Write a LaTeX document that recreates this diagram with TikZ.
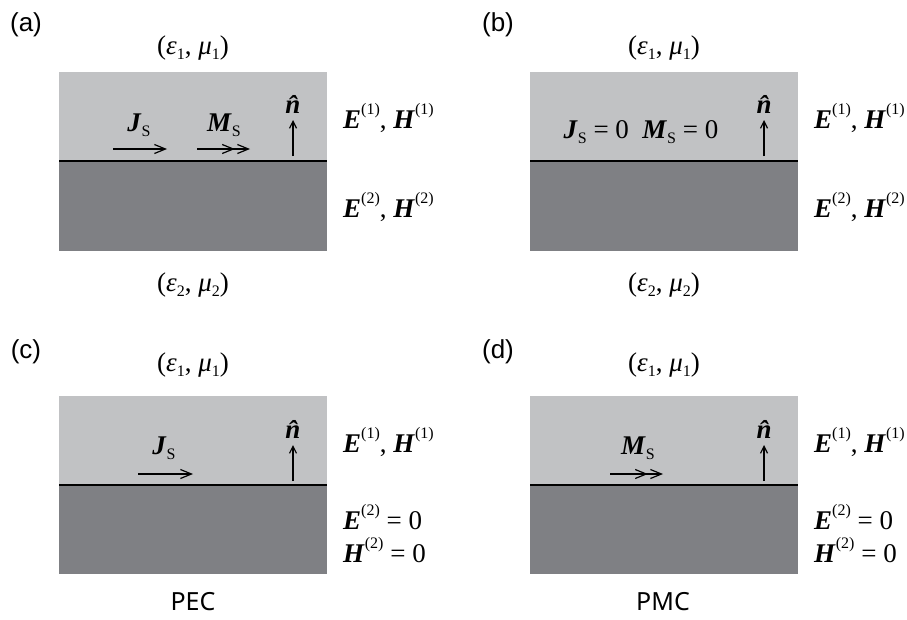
\documentclass[tikz,border=0pt]{standalone}
\usepackage{fontspec}
\setmainfont{Liberation Serif}
\newfontfamily\tagfont{Liberation Sans}
\newfontfamily\wallfont{Noto Sans}
\usetikzlibrary{arrows.meta,positioning}
\definecolor{upgray}{RGB}{193,194,196}
\definecolor{lowgray}{RGB}{127,128,132}
\newcommand{\vE}{\textbf{\textit{E}}}
\newcommand{\vH}{\textbf{\textit{H}}}
\newcommand{\vJ}{\textbf{\textit{J}}}
\newcommand{\vM}{\textbf{\textit{M}}}
\newcommand{\lowtxt}[1]{\raisebox{-0.2em}{\fontsize{16}{16}\selectfont #1}}
\newcommand{\hightxt}[1]{\raisebox{0.5em}{\fontsize{16}{16}\selectfont #1}}
\newcommand{\nhat}{{\bfseries\itshape\^{n}}}
\newcommand{\medium}[1]{(\textit{ε}\lowtxt{#1}, \textit{μ}\lowtxt{#1})}

\begin{document}
\begin{tikzpicture}[x=1pt, y=-1pt,
  every node/.style={font=\fontsize{27}{31}\selectfont, inner sep=0pt},
  tag/.style={font=\tagfont\fontsize{26}{30}\selectfont},
  wall/.style={font=\wallfont\fontsize{25}{29}\selectfont},
  upper/.style={fill=upgray},
  lower/.style={fill=lowgray},
  iface/.style={line width=1.6pt},
  cur/.style={-{Straight Barb[length=11pt,width=9pt]}, line width=1.2pt},
  mcur/.style={-{Straight Barb[length=11pt,width=9pt,sep=2pt] Straight Barb[length=11pt,width=9pt]}, line width=1.2pt},
  nrm/.style={-{Straight Barb[length=7pt,width=7pt]}, line width=1.2pt}]
\useasboundingbox (0,0) rectangle (907,619);

\begin{scope}[shift={(59,72)}]
\fill[upper] (0,0) rectangle (268,89);
\fill[lower] (0,89) rectangle (268,179);
\draw[iface] (0,89) -- (268,89);
\node[tag] (a-tag) at (-33,-47) {(a)};
\node (a-m1) at (134,-24) {\medium{1}};
\node (a-m2) at (134,213) {\medium{2}};
\node[anchor=west] (a-f1) at (284,46) {\vE\hightxt{(1)}, \vH\hightxt{(1)}};
\node[anchor=west] (a-f2) at (284,135) {\vE\hightxt{(2)}, \vH\hightxt{(2)}};
\coordinate (a-j0) at (54,77);
\coordinate (a-j1) at (108,77);
\draw[cur] (a-j0) -- (a-j1);
\node (a-j) at (80,53) {\vJ\lowtxt{S}};
\coordinate (a-k0) at (138,77);
\coordinate (a-k1) at (191,77);
\draw[mcur] (a-k0) -- (a-k1);
\node (a-k) at (165,53) {\vM\lowtxt{S}};
\coordinate (a-n0) at (234,84);
\coordinate (a-n1) at (234,48);
\draw[nrm] (a-n0) -- (a-n1);
\node[above=6pt of a-n1] (a-n) {\nhat};
\end{scope}

\begin{scope}[shift={(530,72)}]
\fill[upper] (0,0) rectangle (268,89);
\fill[lower] (0,89) rectangle (268,179);
\draw[iface] (0,89) -- (268,89);
\node[tag] (b-tag) at (-32,-47) {(b)};
\node (b-m1) at (134,-24) {\medium{1}};
\node (b-m2) at (134,213) {\medium{2}};
\node[anchor=west] (b-f1) at (284,46) {\vE\hightxt{(1)}, \vH\hightxt{(1)}};
\node[anchor=west] (b-f2) at (284,135) {\vE\hightxt{(2)}, \vH\hightxt{(2)}};
\node (b-src) at (111,60) {\vJ\lowtxt{S} = 0\hspace{0.5em}\vM\lowtxt{S} = 0};
\coordinate (b-n0) at (234,84);
\coordinate (b-n1) at (234,48);
\draw[nrm] (b-n0) -- (b-n1);
\node[above=6pt of b-n1] (b-n) {\nhat};
\end{scope}

\begin{scope}[shift={(59,396)}]
\fill[upper] (0,0) rectangle (268,89);
\fill[lower] (0,89) rectangle (268,178);
\draw[iface] (0,89) -- (268,89);
\node[tag] (c-tag) at (-33,-44) {(c)};
\node (c-m1) at (134,-31) {\medium{1}};
\node[anchor=west] (c-f1) at (284,46) {\vE\hightxt{(1)}, \vH\hightxt{(1)}};
\node[anchor=west] (c-e2) at (284,121) {\vE\hightxt{(2)} = 0};
\node[anchor=west] (c-h2) at (284,154) {\vH\hightxt{(2)} = 0};
\coordinate (c-j0) at (79,78);
\coordinate (c-j1) at (134,78);
\draw[cur] (c-j0) -- (c-j1);
\node (c-j) at (105,52) {\vJ\lowtxt{S}};
\coordinate (c-n0) at (234,85);
\coordinate (c-n1) at (234,49);
\draw[nrm] (c-n0) -- (c-n1);
\node[above=6pt of c-n1] (c-n) {\nhat};
\node[wall] (c-wall) at (134,206) {PEC};
\end{scope}

\begin{scope}[shift={(530,396)}]
\fill[upper] (0,0) rectangle (268,89);
\fill[lower] (0,89) rectangle (268,178);
\draw[iface] (0,89) -- (268,89);
\node[tag] (d-tag) at (-32,-44) {(d)};
\node (d-m1) at (134,-31) {\medium{1}};
\node[anchor=west] (d-f1) at (284,46) {\vE\hightxt{(1)}, \vH\hightxt{(1)}};
\node[anchor=west] (d-e2) at (284,121) {\vE\hightxt{(2)} = 0};
\node[anchor=west] (d-h2) at (284,154) {\vH\hightxt{(2)} = 0};
\coordinate (d-k0) at (80,78);
\coordinate (d-k1) at (133,78);
\draw[mcur] (d-k0) -- (d-k1);
\node (d-k) at (108,52) {\vM\lowtxt{S}};
\coordinate (d-n0) at (234,85);
\coordinate (d-n1) at (234,49);
\draw[nrm] (d-n0) -- (d-n1);
\node[above=6pt of d-n1] (d-n) {\nhat};
\node[wall] (d-wall) at (133,206) {PMC};
\end{scope}
\end{tikzpicture}
\end{document}
